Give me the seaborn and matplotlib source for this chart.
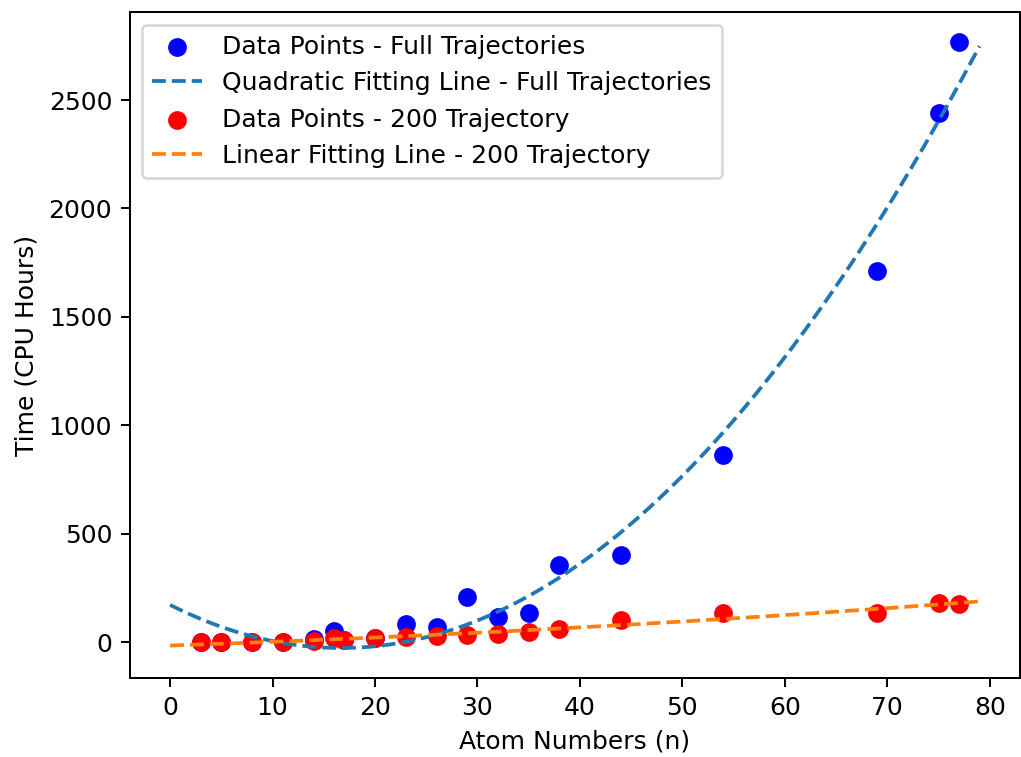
import numpy as np
import pandas as pd
import matplotlib
matplotlib.use("Agg")
import matplotlib.pyplot as plt
import seaborn as sns

atoms = [3, 5, 8, 11, 14, 16, 17, 20, 23, 26, 29, 32, 35, 38, 44, 54, 69, 75, 77]
time_full = [0, 0, 0, 0, 15, 50, 10, 20, 85, 70, 210, 117, 135, 355, 400, 862, 1713, 2441, 2766]
time_200 = [-2, -2, -2, -2, 3, 20, 8, 20, 25, 28, 32, 37, 48, 58, 101, 135, 132, 182, 174]

DPI = 180
fig, ax = plt.subplots(figsize=(1021/DPI, 757/DPI), dpi=DPI)
fig.subplots_adjust(left=0.127, right=0.999, bottom=0.104, top=0.984)

df = pd.DataFrame({"n": atoms, "full": time_full, "t200": time_200})
xs = np.linspace(0, 79, 200)
q = np.polyfit(atoms, time_full, 2)
l = np.polyfit(atoms, time_200, 2)
fit = pd.DataFrame({"x": xs, "quad": np.polyval(q, xs), "lin": np.polyval(l, xs)})

sns.scatterplot(data=df, x="n", y="full", color="blue", s=36, edgecolor="face", linewidth=1.5,
                label="Data Points - Full Trajectories", ax=ax)
sns.lineplot(data=fit, x="x", y="quad", color="C0", linestyle="--",
             label="Quadratic Fitting Line - Full Trajectories", ax=ax)
sns.scatterplot(data=df, x="n", y="t200", color="red", s=36, edgecolor="face", linewidth=1.5,
                label="Data Points - 200 Trajectory", ax=ax)
sns.lineplot(data=fit, x="x", y="lin", color="C1", linestyle="--",
             label="Linear Fitting Line - 200 Trajectory", ax=ax)

ax.set_xlabel("Atom Numbers (n)")
ax.set_ylabel("Time (CPU Hours)")
ax.legend(loc="upper left")
fig.savefig("out.png", dpi=DPI)
